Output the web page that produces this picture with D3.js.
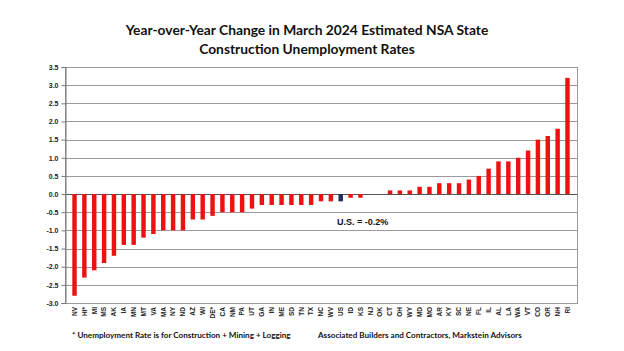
<html>
<head>
<meta charset="utf-8">
<style>
  body { margin: 0; background: #fff; }
  text { font-family: "Open Sans", Arial, sans-serif; }
</style>
</head>
<body>
<svg id="chart" width="624" height="351"></svg>

<script src="https://d3js.org/d3.v7.min.js"></script>
<script>

// data (YoY change, percentage points)
var states = ["NV","HI*","MI","MS","AK","IA","MN","MT","VA","MA","NY","ND","AZ","WI","DE*","CA","NM","PA","UT","GA",
              "IN","ME","SD","TN","TX","NC","WV","US","ID","KS","NJ","OK","CT","OH","WY","MD","MO","AR","KY","SC",
              "NE","FL","IL","AL","LA","WA","VT","CO","OR","NH","RI"]
var change = [-2.8,-2.3,-2.1,-1.9,-1.7,-1.4,-1.4,-1.2,-1.1,-1.0,-1.0,-1.0,-0.7,-0.7,-0.6,-0.5,-0.5,-0.5,-0.4,-0.3,
              -0.3,-0.3,-0.3,-0.3,-0.3,-0.2,-0.2,-0.2,-0.1,-0.1,0.0,0.0,0.1,0.1,0.1,0.2,0.2,0.3,0.3,0.3,
              0.4,0.5,0.7,0.9,0.9,1.0,1.2,1.5,1.6,1.8,3.2]
var yTicks = [-3.0,-2.5,-2.0,-1.5,-1.0,-0.5,0.0,0.5,1.0,1.5,2.0,2.5,3.0,3.5]
var titleLines = ["Year-over-Year Change in March 2024 Estimated NSA State", "Construction Unemployment Rates"]
var usNote = "U.S. = -0.2%"
var footLeft = "* Unemployment Rate is for Construction + Mining + Logging"
var footRight = "Associated Builders and Contractors, Markstein Advisors"

var data = states.map(function(s, i) { return {st: s, v: change[i]} })

var svg = d3.select("#chart")

// plot box (don't use 'top' - clashes with window.top)
var pLeft = 65, pRight = 577, pTop = 67, pBottom = 303

var x = d3.scaleBand()
  .domain(states)
  .range([pLeft, pRight])
  .paddingInner(0.55)
  .paddingOuter(0.74)

var y = d3.scaleLinear()
  .domain([-3.0, 3.5])
  .range([pBottom, pTop])

// gridlines
svg.append("g")
  .selectAll("line")
  .data(yTicks)
  .enter().append("line")
    .attr("x1", pLeft).attr("x2", pRight)
    .attr("y1", d => Math.round(y(d)) + 0.5).attr("y2", d => Math.round(y(d)) + 0.5)
    .attr("stroke", d => d == 0 ? "#555" : "#9a9a9a")
    .attr("stroke-width", 1)

// frame
svg.append("rect")
  .attr("x", pLeft + 0.5).attr("y", Math.round(pTop) + 0.5)
  .attr("width", pRight - pLeft).attr("height", Math.round(pBottom) - Math.round(pTop))
  .attr("fill", "none")
  .attr("stroke", "#9a9a9a")

// left axis - plain hyphen minus like the original
var fmt = function(d) { return (d < 0 ? "-" : "") + Math.abs(d).toFixed(1) }
var yAxis = svg.append("g")
  .attr("transform", "translate(" + (pLeft + 0.5) + ",0)")
  .call(d3.axisLeft(y).tickValues(yTicks).tickFormat(fmt).tickSize(4).tickPadding(3))
yAxis.select(".domain").attr("stroke", "#777")
yAxis.selectAll(".tick line").attr("stroke", "#777")
yAxis.selectAll("text")
  .style("font-family", "Arial, 'Liberation Sans', sans-serif")
  .style("font-size", "7px")
  .style("font-weight", "bold")
  .attr("fill", "#222")

// bars
svg.append("g")
  .selectAll("rect")
  .data(data)
  .enter().append("rect")
    .attr("x", d => x(d.st))
    .attr("width", x.bandwidth())
    .attr("y", d => y(Math.max(0, d.v)))
    .attr("height", d => Math.abs(y(d.v) - y(0)))
    .attr("fill", d => d.st == "US" ? "#1f2f5c" : "#ee1111")

// state labels
svg.append("g")
  .selectAll("text")
  .data(data)
  .enter().append("text")
    .attr("transform", d => "translate(" + (x(d.st) + x.bandwidth() / 2 + 2.3) + "," + (pBottom + 4) + ") rotate(-90)")
    .attr("text-anchor", "end")
    .style("font-family", "Arial, 'Liberation Sans', sans-serif")
    .style("font-size", "6.5px")
    .style("font-weight", "bold")
    .attr("fill", "#222")
    .text(d => d.st)

// title
svg.append("g")
  .selectAll("text")
  .data(titleLines)
  .enter().append("text")
    .attr("x", 307)
    .attr("y", (d, i) => 35 + i * 19)
    .attr("text-anchor", "middle")
    .style("font-family", "Lato, sans-serif")
    .style("font-size", "13.8px")
    .style("font-weight", "bold")
    .attr("fill", "#111")
    .text(d => d)

// US note
svg.append("text")
  .attr("x", 337).attr("y", 225)
  .style("font-family", "Arial, 'Liberation Sans', sans-serif")
  .style("font-size", "9px")
  .style("font-weight", "bold")
  .attr("fill", "#111")
  .text(usNote)

// footer
svg.append("text")
  .attr("x", 72).attr("y", 338)
  .style("font-family", "Lato, sans-serif")
  .style("font-size", "8.1px")
  .style("font-weight", "bold")
  .attr("fill", "#111")
  .text(footLeft)

svg.append("text")
  .attr("x", 318).attr("y", 338)
  .style("font-family", "Lato, sans-serif")
  .style("font-size", "8.1px")
  .style("font-weight", "bold")
  .attr("fill", "#111")
  .text(footRight)

</script>
</body>
</html>
